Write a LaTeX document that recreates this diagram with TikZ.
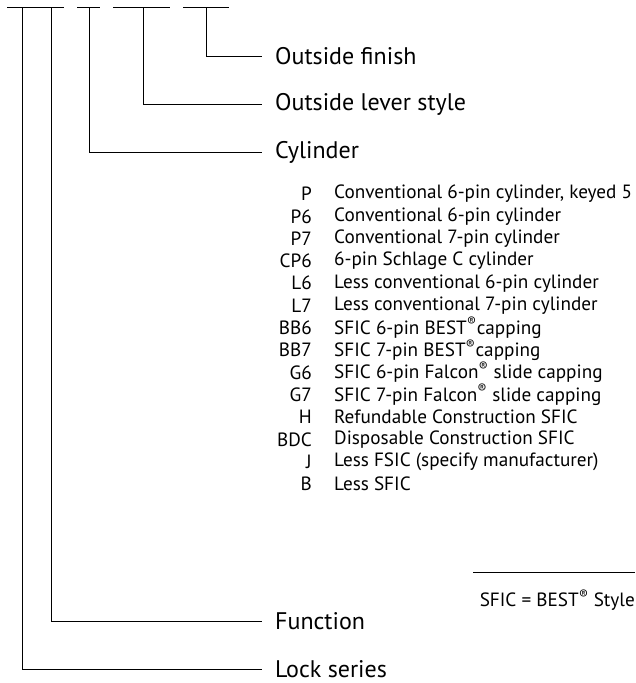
\documentclass[tikz,border=0pt]{standalone}
\usepackage{fontspec}
\setmainfont{PT Sans}
\usetikzlibrary{positioning}

\begin{document}
\begin{tikzpicture}[
    x=1pt, y=-1pt,
    lead/.style={draw, line width=1pt},
    part/.style={anchor=west, inner xsep=13pt, inner ysep=0pt, font=\fontsize{24}{28}\selectfont},
    code/.style={anchor=east, inner sep=0pt, font=\fontsize{19.2}{23}\selectfont},
    desc/.style={anchor=west, inner sep=0pt, font=\fontsize{19.2}{23}\selectfont}
]
\useasboundingbox (0,0) rectangle (635,683);
% blanks of the part number
\draw[lead] (7,7)   -- (64,7);
\draw[lead] (77,7)  -- (100,7);
\draw[lead] (113,7) -- (170,7);
\draw[lead] (183,7) -- (229,7);
\coordinate (t-series) at (22,7);
\coordinate (t-func)   at (51,7);
\coordinate (t-cyl)    at (89,7);
\coordinate (t-lever)  at (143,7);
\coordinate (t-finish) at (206,7);
% fields
\node[part] (finish) at (262,56)  {Outside finish};
\node[part] (lever)  at (262,104) {Outside lever style};
\node[part] (cyl)    at (262,152) {Cylinder};
\node[part] (func)   at (262,621) {Function};
\node[part] (series) at (262,669) {Lock series};
\draw[lead] (t-finish) |- (finish.west);
\draw[lead] (t-lever)  |- (lever.west);
\draw[lead] (t-cyl)    |- (cyl.west);
\draw[lead] (t-func)   |- (func.west);
\draw[lead] (t-series) |- (series.west);
% cylinder options
\foreach \c/\d [count=\i from 0] in {
    P/{Conventional 6-pin cylinder, keyed 5},
    P6/{Conventional 6-pin cylinder},
    P7/{Conventional 7-pin cylinder},
    CP6/{6-pin Schlage C cylinder},
    L6/{Less conventional 6-pin cylinder},
    L7/{Less conventional 7-pin cylinder},
    BB6/{SFIC 6-pin BEST\textsuperscript{®}capping},
    BB7/{SFIC 7-pin BEST\textsuperscript{®}capping},
    G6/{SFIC 6-pin Falcon\textsuperscript{®} slide capping},
    G7/{SFIC 7-pin Falcon\textsuperscript{®} slide capping},
    H/{Refundable Construction SFIC},
    BDC/{Disposable Construction SFIC},
    J/{Less FSIC (specify manufacturer)},
    B/{Less SFIC}} {
  \node[code] (c\i) at (312,194+22.3*\i) {\c};
  \node[desc] (d\i) at (334,194+22.3*\i) {\d};
}
% footnote
\node[code] (note) at (635,600) {SFIC = BEST\textsuperscript{®} Style};
\coordinate (n-left) at (473,572);
\draw[lead] (n-left) -- (n-left -| note.east);
\end{tikzpicture}
\end{document}
